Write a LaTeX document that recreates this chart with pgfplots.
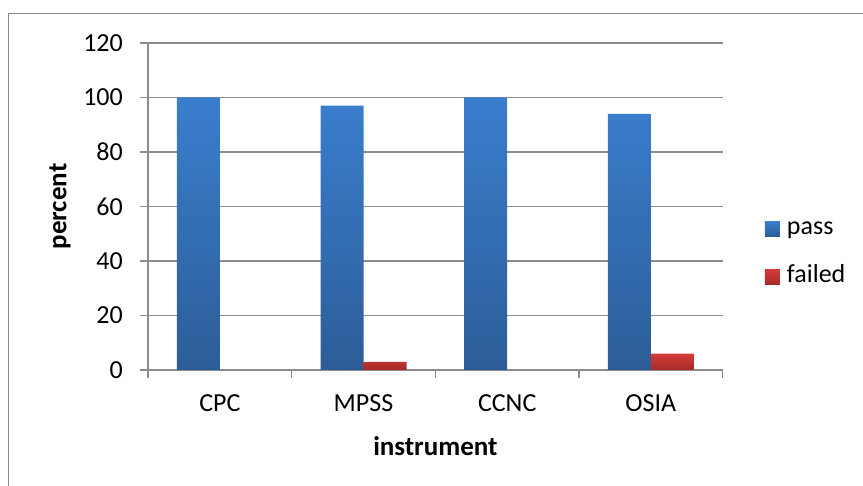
\documentclass[border=0pt]{standalone}
\usepackage{pgfplots}
\pgfplotsset{compat=1.18}
\usepackage{fontspec}
\setmainfont{Carlito}
\definecolor{passtop}{RGB}{58,126,206}
\definecolor{passbot}{RGB}{44,93,152}
\definecolor{failtop}{RGB}{212,60,55}
\definecolor{failbot}{RGB}{166,42,42}
\definecolor{gridgray}{RGB}{140,140,140}
\definecolor{framegray}{RGB}{135,135,135}
\begin{document}
\begin{tikzpicture}[x=1pt,y=1pt]
\useasboundingbox (0,0) rectangle (863,486);
\draw[framegray,line width=1.5pt] (8.5,0) -- (8.5,472.5) -- (863,472.5);
\begin{axis}[
  at={(148pt,116pt)}, anchor=south west,
  scale only axis, width=574.7pt, height=327pt,
  xmin=-0.5, xmax=3.5, ymin=0, ymax=120,
  ytick={0,20,...,120},
  xtick={0,1,2,3},
  xticklabels={CPC,MPSS,CCNC,OSIA},
  minor xtick={-0.5,0.5,1.5,2.5,3.5},
  major x tick style={draw=none},
  axis lines*=left,
  axis line style={gridgray,line width=1.5pt},
  every tick/.style={gridgray,line width=1.5pt},
  tick align=outside,
  major tick length=8pt, minor tick length=8pt,
  ymajorgrids,
  grid style={gridgray,line width=1.5pt},
  /pgf/number format/assume math mode=true,
  tick label style={font=\fontsize{26}{31}\selectfont, inner sep=0pt},
  xticklabel style={anchor=base, yshift=-33.5pt},
  yticklabel style={anchor=east, xshift=-17pt},
  xlabel={\textbf{instrument}},
  ylabel={\textbf{percent}},
  label style={font=\fontsize{27}{32}\selectfont},
  xlabel style={at={(axis description cs:0.5,-0.232)}, anchor=center},
  ylabel style={at={(axis description cs:-0.153,0.5)}, anchor=center, rotate=0},
  ybar, bar width=43pt,
  legend style={draw=none, fill=none, at={(axis description cs:1.0736,0.358)}, anchor=west,
    inner sep=0pt, outer sep=0pt, row sep=24pt, font=\fontsize{26}{31}\selectfont,
    nodes={inner sep=0pt, text height=18pt, text depth=6pt},
    column sep=7pt},
  legend cell align=left,
  legend image code/.code={\fill[#1] (0pt,-7.5pt) rectangle (15pt,7.5pt);},
]
\addplot[draw=none, top color=passtop, bottom color=passbot, bar shift=-21.5pt]
  coordinates {(0,100) (1,97) (2,100) (3,94)};
\addlegendentry{pass}
\addplot[draw=none, top color=failtop, bottom color=failbot, bar shift=21.5pt]
  coordinates {(1,3) (3,6)};
\addlegendentry{failed}
\end{axis}
\end{tikzpicture}
\end{document}
